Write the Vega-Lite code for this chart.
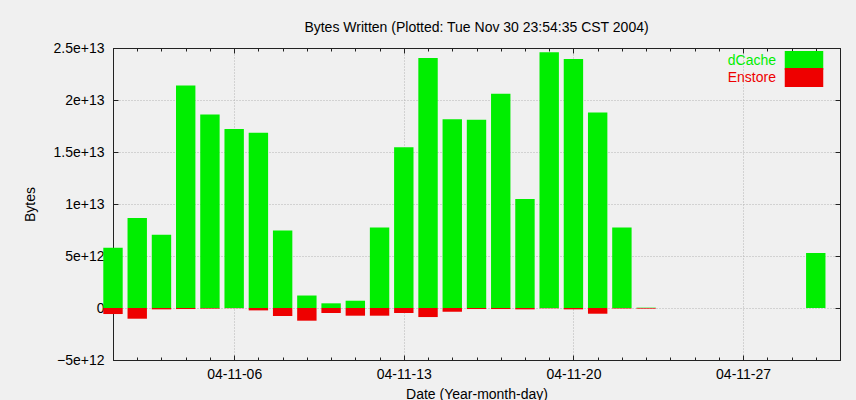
{
  "$schema": "https://vega.github.io/schema/vega-lite/v6.json",
  "width": 727,
  "height": 312,
  "autosize": {"type": "none"},
  "padding": {"left": 113, "top": 48, "right": 16, "bottom": 40},
  "background": "#f0f0f0",
  "config": {
    "font": "Liberation Sans",
    "view": {"stroke": "#222222", "strokeWidth": 1},
    "axis": {
      "labelFont": "Liberation Sans",
      "labelFontSize": 14,
      "labelColor": "#000000",
      "titleFont": "Liberation Sans",
      "titleFontSize": 14,
      "titleFontWeight": "normal",
      "titleColor": "#000000",
      "domainColor": "#222222",
      "tickColor": "#222222",
      "gridColor": "#b4b4b4",
      "gridDash": [1, 2],
      "labelOverlap": false,
      "labelFlush": false
    }
  },
  "title": {
    "text": "Bytes Written (Plotted: Tue Nov 30 23:54:35 CST 2004)",
    "font": "Liberation Sans",
    "fontSize": 14,
    "fontWeight": "normal",
    "color": "#000000",
    "anchor": "middle",
    "frame": "group",
    "baseline": "alphabetic",
    "offset": -5
  },
  "data": {
    "values": [
      {"date": "2004-11-01", "dCache": 5.8e12, "Enstore": -0.58e12},
      {"date": "2004-11-02", "dCache": 8.65e12, "Enstore": -1.03e12},
      {"date": "2004-11-03", "dCache": 7.05e12, "Enstore": -0.13e12},
      {"date": "2004-11-04", "dCache": 21.4e12, "Enstore": -0.1e12},
      {"date": "2004-11-05", "dCache": 18.6e12, "Enstore": -0.06e12},
      {"date": "2004-11-06", "dCache": 17.2e12, "Enstore": -0.02e12},
      {"date": "2004-11-07", "dCache": 16.85e12, "Enstore": -0.23e12},
      {"date": "2004-11-08", "dCache": 7.45e12, "Enstore": -0.77e12},
      {"date": "2004-11-09", "dCache": 1.2e12, "Enstore": -1.22e12},
      {"date": "2004-11-10", "dCache": 0.45e12, "Enstore": -0.48e12},
      {"date": "2004-11-11", "dCache": 0.7e12, "Enstore": -0.74e12},
      {"date": "2004-11-12", "dCache": 7.75e12, "Enstore": -0.74e12},
      {"date": "2004-11-13", "dCache": 15.45e12, "Enstore": -0.48e12},
      {"date": "2004-11-14", "dCache": 24.05e12, "Enstore": -0.87e12},
      {"date": "2004-11-15", "dCache": 18.15e12, "Enstore": -0.36e12},
      {"date": "2004-11-16", "dCache": 18.1e12, "Enstore": -0.1e12},
      {"date": "2004-11-17", "dCache": 20.6e12, "Enstore": -0.1e12},
      {"date": "2004-11-18", "dCache": 10.48e12, "Enstore": -0.13e12},
      {"date": "2004-11-19", "dCache": 24.6e12, "Enstore": -0.03e12},
      {"date": "2004-11-20", "dCache": 23.95e12, "Enstore": -0.13e12},
      {"date": "2004-11-21", "dCache": 18.8e12, "Enstore": -0.55e12},
      {"date": "2004-11-22", "dCache": 7.75e12, "Enstore": -0.06e12},
      {"date": "2004-11-23", "dCache": 0.03e12, "Enstore": -0.06e12},
      {"date": "2004-11-30", "dCache": 5.3e12, "Enstore": 0}
    ]
  },
  "transform": [{"fold": ["dCache", "Enstore"], "as": ["system", "bytes"]}],
  "encoding": {
    "color": {
      "field": "system",
      "type": "nominal",
      "scale": {"domain": ["dCache", "Enstore"], "range": ["#00ee00", "#ee0000"]},
      "legend": {
        "title": null,
        "orient": "none",
        "legendX": 684,
        "legendY": 5.5,
        "padding": 0,
        "symbolType": "M-2.75,-1.36H2.75V1.36H-2.75Z",
        "symbolSize": 196,
        "symbolStrokeWidth": 0,
        "symbolOpacity": 1,
        "rowPadding": -6,
        "labelAlign": "right",
        "labelOffset": -35,
        "labelFont": "Liberation Sans",
        "labelFontSize": 14,
        "encode": {"labels": {"update": {"fill": {"scale": "color", "field": "value"}}}}
      }
    }
  },
  "layer": [
    {
      "transform": [{"filter": "datum.system == 'dCache'"}],
      "mark": {"type": "bar", "width": 19.4, "opacity": 1},
      "encoding": {
        "x": {
          "field": "date",
          "type": "temporal",
          "scale": {"type": "utc", "domain": [{"year": 2004, "month": 11, "date": 1, "utc": true}, {"year": 2004, "month": 12, "date": 1, "utc": true}], "nice": false, "padding": 0},
          "axis": {
            "orient": "bottom",
            "tickCount": {"interval": "day", "step": 1},
            "labelExpr": "utcdate(datum.value) % 7 == 6 ? utcFormat(datum.value, '%y-%m-%d') : ''",
            "tickSize": {"condition": {"test": "utcdate(datum.value) % 7 == 6", "value": -5}, "value": -3},
            "grid": true,
            "gridOpacity": {"condition": {"test": "utcdate(datum.value) % 7 == 6", "value": 1}, "value": 0},
            "labelPadding": 12,
            "title": "Date (Year-month-day)",
            "titlePadding": 4
          }
        },
        "y": {
          "field": "bytes",
          "type": "quantitative",
          "stack": null,
          "scale": {"domain": [-5e12, 2.5e13], "nice": false, "zero": false},
          "axis": {
            "orient": "left",
            "values": [-5e12, 0, 5e12, 1e13, 1.5e13, 2e13, 2.5e13],
            "labelExpr": "datum.value == 0 ? '0' : format(datum.value, '.2~e')",
            "tickSize": -5,
            "grid": true,
            "labelPadding": 14,
            "title": "Bytes",
            "titlePadding": 16
          }
        }
      }
    },
    {
      "transform": [{"filter": "datum.system == 'Enstore'"}],
      "mark": {"type": "bar", "width": 19.4, "opacity": 1},
      "encoding": {
        "x": {
          "field": "date",
          "type": "temporal",
          "axis": {
            "orient": "top",
            "tickCount": {"interval": "day", "step": 1},
            "labels": false,
            "tickSize": {"condition": {"test": "utcdate(datum.value) % 7 == 6", "value": -5}, "value": -3},
            "grid": false,
            "title": null
          }
        },
        "y": {
          "field": "bytes",
          "type": "quantitative",
          "stack": null,
          "axis": {
            "orient": "right",
            "values": [-5e12, 0, 5e12, 1e13, 1.5e13, 2e13, 2.5e13],
            "labels": false,
            "tickSize": -5,
            "grid": false,
            "title": null
          }
        }
      }
    }
  ],
  "resolve": {"axis": {"x": "independent", "y": "independent"}}
}
